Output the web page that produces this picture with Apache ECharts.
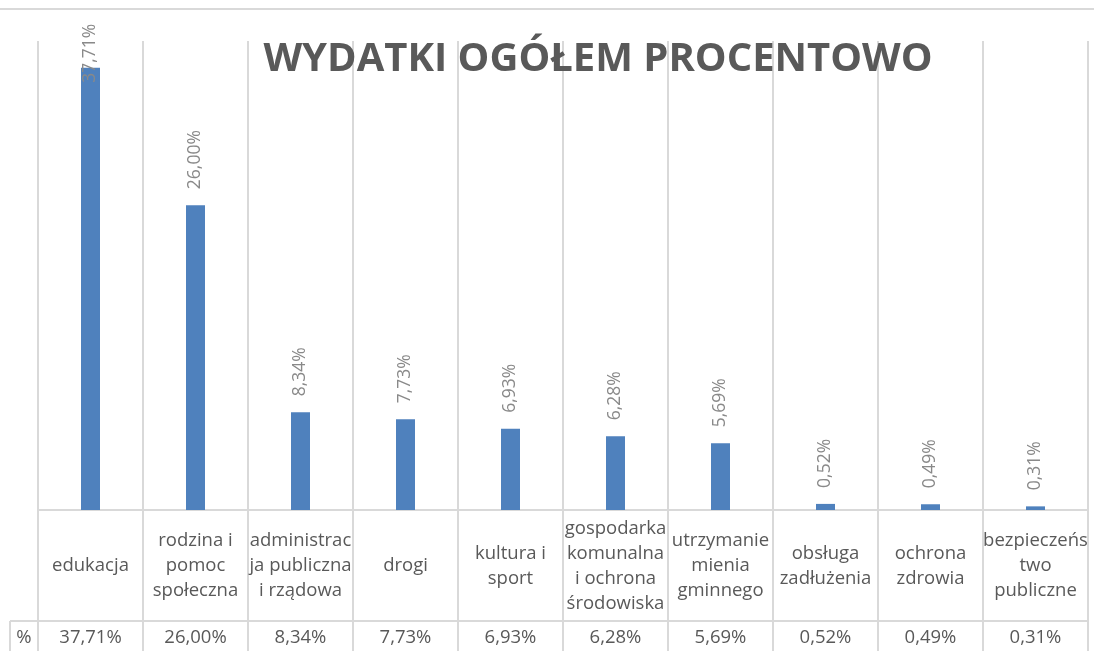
<!DOCTYPE html>
<html>
<head>
<meta charset="utf-8">
<script src="https://cdn.jsdelivr.net/npm/echarts@6/dist/echarts.min.js"></script>
<style>
	html, body { margin: 0; padding: 0; background: #fff; }
	#chart { width: 1094px; height: 651px; }
</style>
</head>
<body>
<div id="chart"></div>
<script>
	// kategorie wydatków (z podziałem na linie jak w tabeli danych)
	var categories = [
		'edukacja',
		'rodzina i\npomoc\nspołeczna',
		'administrac\nja publiczna\ni rządowa',
		'drogi',
		'kultura i\nsport',
		'gospodarka\nkomunalna\ni ochrona\nśrodowiska',
		'utrzymanie\nmienia\ngminnego',
		'obsługa\nzadłużenia',
		'ochrona\nzdrowia',
		'bezpieczeńs\ntwo\npubliczne'
	]
	var values = [37.71, 26.00, 8.34, 7.73, 6.93, 6.28, 5.69, 0.52, 0.49, 0.31]
	var seriesName = '%'
	var titleText = 'WYDATKI OGÓŁEM PROCENTOWO'

	var fontFamily = '"Open Sans", sans-serif'
	var gridColor = '#d9d9d9'
	var textColor = '#595959'

	function fmt(v) {
		return v.toFixed(2).replace('.', ',') + '%'
	}

	var valueLabels = values.map(fmt)

	// pierwszy słupek - etykieta nachodzi na słupek (brak miejsca nad nim)
	var barData = values.map(function (v, i) {
		if (i === 0) {
			return { value: v, label: { distance: -15 } }
		}
		return v
	})

	var chart = echarts.init(document.getElementById('chart'))
	var option = {
		animation: false,
		backgroundColor: '#fff',
		title: {
			text: titleText,
			left: 593,
			top: 35,
			textAlign: 'center',
			textStyle: {
				fontFamily: fontFamily,
				fontSize: 40,
				fontWeight: 'bold',
				color: textColor
			}
		},
		grid: [
			{ left: 38, right: 6, top: 41, bottom: 141 },
			{ left: 38, right: 6, top: 510, bottom: 0 }
		],
		xAxis: [{
			type: 'category',
			gridIndex: 0,
			data: categories,
			axisLine: { lineStyle: { color: gridColor, width: 2 } },
			axisTick: { show: false },
			axisLabel: {
				interval: 0,
				margin: 56,
				verticalAlign: 'middle',
				lineHeight: 25,
				fontSize: 18.5,
				fontFamily: fontFamily,
				color: textColor
			},
			splitLine: { show: true, lineStyle: { color: gridColor, width: 2 } }
		}, {
			type: 'category',
			gridIndex: 1,
			data: valueLabels,
			position: 'bottom',
			axisLine: { show: false },
			axisTick: { show: false },
			axisLabel: {
				interval: 0,
				margin: -13,
				verticalAlign: 'middle',
				fontSize: 18.5,
				fontFamily: fontFamily,
				color: textColor
			},
			splitLine: { show: true, lineStyle: { color: gridColor, width: 2 } }
		}],
		yAxis: [
			{ type: 'value', gridIndex: 0, min: 0, max: 40, show: false },
			{ type: 'value', gridIndex: 1, show: false }
		],
		graphic: [
			{ type: 'line', shape: { x1: 0, y1: 9, x2: 1094, y2: 9 }, style: { stroke: gridColor, lineWidth: 2 } },
			{ type: 'line', shape: { x1: 10, y1: 621, x2: 1088, y2: 621 }, style: { stroke: gridColor, lineWidth: 2 } },
			{ type: 'line', shape: { x1: 10, y1: 621, x2: 10, y2: 651 }, style: { stroke: gridColor, lineWidth: 2 } },
			{
				type: 'text', x: 24, y: 638,
				style: {
					text: seriesName, fill: textColor, font: '18.5px ' + fontFamily,
					textAlign: 'center', textVerticalAlign: 'middle'
				}
			}
		],
		series: [{
			name: seriesName,
			type: 'bar',
			xAxisIndex: 0,
			yAxisIndex: 0,
			barWidth: 19,
			data: barData,
			itemStyle: { color: '#4f81bd' },
			label: {
				show: true,
				position: 'top',
				rotate: 90,
				distance: 16,
				align: 'left',
				verticalAlign: 'middle',
				fontSize: 17.5,
				fontFamily: fontFamily,
				color: '#898989',
				formatter: function (p) { return fmt(p.value) }
			}
		}]
	}
	chart.setOption(option)
</script>
</body>
</html>
